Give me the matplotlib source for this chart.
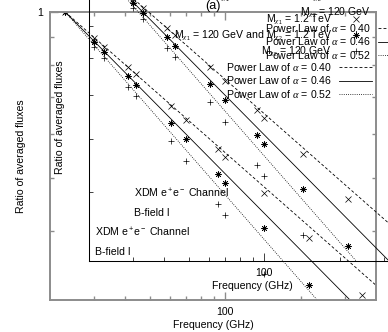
import numpy as np
import matplotlib
matplotlib.use('Agg')
from matplotlib import pyplot as plt
from matplotlib.ticker import NullFormatter

plt.rcParams['font.family'] = ['Liberation Sans', 'DejaVu Sans']
plt.rcParams['font.size'] = 7.6
plt.rcParams['mathtext.fontset'] = 'custom'
plt.rcParams['mathtext.rm'] = 'Liberation Sans'
plt.rcParams['mathtext.it'] = 'Liberation Serif:italic'
plt.rcParams['mathtext.bf'] = 'Liberation Sans:bold'

# frequencies (GHz) and ratios
freq = [23, 30, 33, 41, 44, 61, 70, 94, 100, 143, 217, 353]
ratio_tev = [1, 0.897, 0.863, 0.794, 0.771, 0.675, 0.636, 0.563, 0.545, 0.469, 0.388, 0.306]
ratio_mix = [1, 0.882, 0.845, 0.764, 0.736, 0.630, 0.588, 0.507, 0.490, 0.405, 0.319, 0.25]
ratio_gev = [1, 0.863, 0.824, 0.730, 0.703, 0.583, 0.536, 0.448, 0.428, 0.335, 0.26, 0.19]
point_labels = [r'M$_{\chi_1}$ = 1.2 TeV',
                r'M$_{\chi_1}$ = 120 GeV and M$_{\chi_2}$ = 1.2 TeV',
                r'M$_{\chi_2}$ = 120 GeV']
alphas = [0.40, 0.46, 0.52]
xmin, xmax = 20, 400
ymin, ymax = 0.3, 1

fig = plt.figure(figsize=(3.88, 3.32), dpi=100)


def draw(rect, spine_color, spine_lw):
    ax = fig.add_axes(rect)
    ax.patch.set_visible(False)
    ax.set_xscale('log')
    ax.set_yscale('log')
    ax.set_xlim(xmin, xmax)
    ax.set_ylim(ymin, ymax)

    markers = ['x', (8, 2, 0), '+']
    for vals, m, lab in zip([ratio_tev, ratio_mix, ratio_gev], markers, point_labels):
        ax.plot(freq, vals, linestyle='none', marker=m, ms=4.5, mew=0.5,
                color='k', label=lab)

    f = np.geomspace(freq[0], xmax, 60)
    styles = [(0, (3.5, 2.5)), '-', (0, (1, 1.6))]
    for a, ls in zip(alphas, styles):
        ax.plot(f, (f / freq[0]) ** (-a), color='k', lw=0.6, linestyle=ls,
                label=r'Power Law of $\alpha$ = %.2f' % a)

    ax.set_xticks([100])
    ax.set_xticklabels(['100'])
    ax.set_xticks([30, 40, 50, 60, 70, 80, 90, 200, 300], minor=True)
    ax.xaxis.set_minor_formatter(NullFormatter())
    ax.set_yticks([1])
    ax.set_yticklabels(['1'])
    ax.set_yticks([0.4, 0.5, 0.6, 0.7, 0.8, 0.9], minor=True)
    ax.yaxis.set_minor_formatter(NullFormatter())
    ax.tick_params(which='both', direction='in', top=True, right=True,
                   color=spine_color, width=spine_lw * 0.7)
    ax.tick_params(which='major', length=6, pad=5)
    ax.tick_params(which='minor', length=3)
    for s in ax.spines.values():
        s.set_color(spine_color)
        s.set_linewidth(spine_lw)

    ax.set_xlabel('Frequency (GHz)')
    ax.xaxis.set_label_coords(0.5, -0.07)
    ax.set_ylabel('Ratio of averaged fluxes')
    ax.yaxis.set_label_coords(-0.074, 0.5)
    ax.set_title('(a)', pad=2)

    ax.text(0.138, 0.236, 'XDM e$^+$e$^-$ Channel', transform=ax.transAxes, va='center')
    ax.text(0.138, 0.167, 'B-field I', transform=ax.transAxes, va='center')

    ax.legend(loc='upper right', bbox_to_anchor=(0.988, 0.997), frameon=False,
              markerfirst=False, handlelength=3.1, handletextpad=0.7,
              labelspacing=0.16, borderpad=0, borderaxespad=0, numpoints=1)
    return ax


w, h = 326 / 388, 288 / 332
draw([50 / 388, 32 / 332, w, h], '#8c8c8c', 1.4)
draw([89 / 388, 71 / 332, w, h], 'k', 0.75)

fig.savefig('out.png', dpi=100)
